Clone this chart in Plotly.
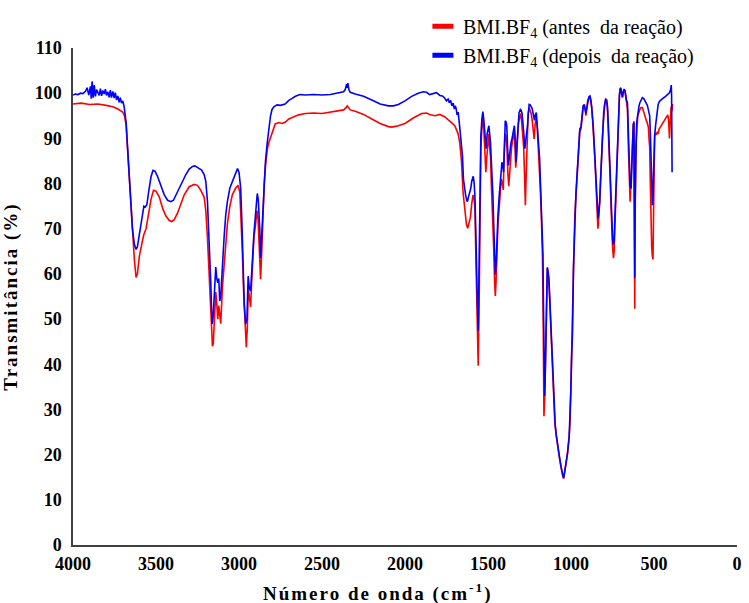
import plotly.graph_objects as go

# FTIR spectrum of BMI.BF4 before the reaction (wavenumber in cm-1, transmittance in %)
wn_antes = [
    4000, 3950, 3900, 3850, 3800, 3760, 3730, 3700, 3690, 3680, 3672, 3662, 3650, 3640, 3630,
    3620, 3612, 3600, 3590, 3575, 3560, 3545, 3530, 3515, 3500, 3480, 3460, 3440, 3420, 3405,
    3390, 3370, 3350, 3330, 3300, 3270, 3250, 3230, 3210, 3200, 3190, 3180, 3170, 3160, 3155,
    3148, 3140, 3135, 3128, 3122, 3115, 3110, 3100, 3090, 3080, 3070, 3055, 3040, 3020, 3005,
    2995, 2988, 2980, 2972, 2963, 2956, 2950, 2944, 2938, 2930, 2924, 2918, 2910, 2900, 2892,
    2885, 2878, 2870, 2864, 2856, 2848, 2840, 2830, 2820, 2800, 2782, 2760, 2740, 2720, 2700,
    2680, 2640, 2600, 2550, 2500, 2450, 2400, 2370, 2355, 2348, 2340, 2330, 2300, 2250, 2200,
    2150, 2100, 2080, 2050, 2000, 1950, 1900, 1870, 1852, 1820, 1790, 1762, 1740, 1720, 1700,
    1690, 1680, 1670, 1660, 1650, 1640, 1630, 1622, 1615, 1606, 1598, 1590, 1584, 1579, 1572,
    1565, 1559, 1553, 1549, 1543, 1537, 1531, 1525, 1519, 1513, 1507, 1500, 1495, 1490, 1485,
    1480, 1473, 1466, 1460, 1456, 1452, 1446, 1440, 1432, 1426, 1420, 1414, 1408, 1403, 1398,
    1392, 1386, 1380, 1375, 1370, 1364, 1358, 1350, 1344, 1338, 1333, 1328, 1322, 1316, 1310,
    1303, 1298, 1290, 1285, 1280, 1275, 1270, 1265, 1258, 1252, 1246, 1240, 1234, 1228, 1222,
    1216, 1210, 1204, 1196, 1190, 1184, 1178, 1172, 1167, 1163, 1158, 1152, 1146, 1142, 1138,
    1133, 1128, 1123, 1118, 1113, 1108, 1103, 1098, 1090, 1080, 1070, 1060, 1054, 1048, 1044,
    1038, 1031, 1021, 1011, 1006, 1001, 996, 991, 985, 977, 970, 965, 957, 950, 947,
    940, 935, 927, 920, 915, 910, 906, 900, 893, 886, 880, 876, 870, 866, 860,
    853, 847, 843, 838, 835, 830, 827, 822, 819, 814, 811, 806, 803, 797, 791,
    785, 780, 777, 774, 770, 764, 759, 754, 749, 744, 740, 736, 732, 728, 724,
    720, 717, 714, 708, 704, 700, 695, 690, 685, 680, 675, 670, 666, 660, 655,
    650, 644, 640, 636, 632, 629, 625, 621, 618, 616, 614, 610, 605, 601, 598,
    595, 590, 585, 578, 570, 565, 560, 555, 550, 545, 541, 537, 534, 530, 526,
    522, 518, 514, 510, 506, 503, 500, 496, 490, 485, 480, 475, 470, 465, 457,
    450, 445, 437, 430, 425, 417, 412, 407, 403, 400, 397, 392, 388,
]
t_antes = [
    97.6, 97.8, 97.5, 97.6, 97.3, 97.0, 96.5, 95.8, 95.0, 93.0, 88.0, 82.0, 74.0, 68.0, 63.0,
    59.2, 60.0, 64.0, 66.0, 68.5, 70.0, 73.0, 76.5, 78.5, 78.3, 77.0, 74.5, 72.8, 71.8, 71.6,
    72.0, 73.5, 75.5, 77.5, 79.3, 79.8, 79.6, 78.5, 77.0, 74.0, 68.0, 60.0, 50.0, 44.0, 44.5,
    52.0, 56.0, 54.0, 50.0, 53.0, 50.0, 49.0, 57.0, 62.0, 67.0, 71.0, 75.0, 77.5, 79.0, 79.6,
    78.0, 73.0, 65.0, 56.0, 47.0, 43.8, 48.0, 57.0, 55.0, 52.7, 58.0, 63.0, 68.0, 71.0, 74.0,
    72.0, 66.0, 58.8, 64.0, 74.0, 80.0, 84.0, 87.5, 89.1, 91.5, 93.2, 93.5, 93.3, 93.6, 94.3,
    94.6, 95.2, 95.5, 95.6, 95.5, 95.8, 96.0, 96.3, 96.8, 97.2, 96.8, 96.3, 96.0, 95.3, 94.3,
    93.3, 92.6, 92.5, 92.7, 93.3, 94.5, 95.5, 95.6, 95.3, 95.0, 95.3, 94.8, 94.0, 93.5, 92.8,
    92.0, 91.0, 89.0, 85.0, 78.0, 74.0, 71.0, 70.1, 71.0, 72.5, 75.5, 77.5, 76.5, 75.0, 62.0,
    50.0, 39.7, 55.0, 75.0, 88.0, 92.0, 94.5, 92.0, 88.0, 82.5, 86.0, 90.0, 91.0, 88.0, 86.0,
    80.0, 74.0, 66.0, 58.0, 55.1, 58.0, 66.0, 71.0, 75.0, 78.0, 81.0, 80.0, 78.6, 86.0, 91.0,
    90.5, 88.0, 82.0, 79.4, 82.0, 86.0, 88.0, 90.0, 91.5, 89.0, 83.5, 86.0, 90.0, 93.5, 94.5,
    95.5, 94.0, 91.0, 88.0, 82.0, 75.2, 82.0, 90.0, 95.5, 96.8, 96.0, 95.5, 94.0, 91.0, 89.9,
    93.0, 94.5, 93.0, 88.0, 84.0, 78.0, 72.0, 64.0, 48.0, 28.5, 33.0, 45.0, 55.0, 61.5, 60.0,
    58.0, 54.0, 49.0, 45.0, 40.0, 33.0, 29.0, 27.5, 24.5, 21.5, 19.4, 17.2, 15.8, 15.0, 14.7,
    16.0, 18.2, 20.3, 24.0, 27.0, 34.0, 44.0, 48.0, 61.0, 73.0, 78.0, 81.0, 86.5, 90.0, 91.5,
    92.0, 94.0, 96.8, 97.2, 96.5, 95.0, 96.4, 98.3, 99.0, 99.2, 98.0, 97.0, 94.0, 92.0, 88.0,
    83.0, 78.0, 73.0, 70.0, 71.0, 73.0, 76.0, 80.0, 83.5, 87.0, 90.0, 93.0, 95.5, 97.5, 98.8,
    98.2, 96.0, 93.5, 91.5, 88.0, 81.0, 75.0, 69.0, 65.5, 63.5, 65.0, 70.0, 75.0, 79.0, 84.0,
    88.5, 93.0, 97.0, 99.5, 100.8, 101.0, 99.8, 99.0, 100.2, 100.8, 100.5, 99.0, 97.5, 96.5, 89.0,
    84.0, 76.0, 79.0, 84.0, 88.0, 91.0, 93.0, 93.8, 70.0, 52.3, 70.0, 88.0, 92.0, 93.5, 94.8,
    95.3, 96.0, 96.4, 96.8, 96.8, 96.2, 95.5, 95.0, 94.3, 93.8, 93.5, 93.0, 92.5, 90.0, 88.0,
    80.0, 70.0, 66.0, 64.0, 63.2, 72.0, 83.0, 90.5, 91.0, 90.8, 91.5, 91.0, 92.0, 92.3, 92.5,
    93.2, 93.5, 93.7, 94.2, 94.5, 95.2, 94.0, 90.0, 93.0, 95.0, 97.0, 96.0, 97.6,
]

# FTIR spectrum of BMI.BF4 after the reaction
wn_depois = [
    4000, 3985, 3970, 3955, 3940, 3925, 3915, 3905, 3895, 3890, 3885, 3878, 3872, 3865, 3858,
    3850, 3842, 3835, 3828, 3820, 3812, 3805, 3798, 3790, 3782, 3775, 3768, 3760, 3752, 3745,
    3738, 3730, 3722, 3715, 3708, 3700, 3692, 3685, 3680, 3672, 3662, 3652, 3642, 3630, 3620,
    3612, 3600, 3592, 3585, 3573, 3565, 3555, 3545, 3530, 3518, 3505, 3490, 3470, 3450, 3430,
    3410, 3395, 3375, 3350, 3320, 3300, 3280, 3266, 3245, 3225, 3210, 3200, 3190, 3180, 3170,
    3165, 3161, 3155, 3148, 3140, 3134, 3128, 3122, 3116, 3110, 3100, 3090, 3080, 3070, 3055,
    3040, 3020, 3009, 3000, 2990, 2983, 2976, 2968, 2960, 2952, 2945, 2938, 2930, 2925, 2918,
    2910, 2904, 2896, 2890, 2884, 2880, 2875, 2870, 2864, 2856, 2848, 2841, 2830, 2821, 2810,
    2801, 2790, 2771, 2750, 2722, 2700, 2682, 2660, 2633, 2600, 2550, 2500, 2450, 2400, 2370,
    2360, 2352, 2348, 2344, 2338, 2330, 2300, 2250, 2200, 2150, 2100, 2070, 2040, 2000, 1960,
    1920, 1890, 1870, 1852, 1830, 1810, 1790, 1775, 1762, 1750, 1740, 1733, 1725, 1718, 1710,
    1703, 1698, 1693, 1686, 1680, 1673, 1665, 1660, 1654, 1648, 1644, 1635, 1628, 1624, 1618,
    1610, 1604, 1598, 1589, 1584, 1579, 1574, 1571, 1565, 1559, 1553, 1549, 1543, 1537, 1531,
    1525, 1519, 1513, 1511, 1505, 1500, 1495, 1490, 1485, 1480, 1476, 1470, 1466, 1461, 1456,
    1450, 1445, 1440, 1433, 1426, 1420, 1416, 1411, 1406, 1401, 1396, 1390, 1387, 1382, 1377,
    1371, 1366, 1361, 1355, 1350, 1345, 1341, 1336, 1331, 1325, 1320, 1313, 1305, 1300, 1295,
    1290, 1284, 1278, 1270, 1262, 1257, 1252, 1246, 1240, 1234, 1228, 1226, 1220, 1215, 1209,
    1200, 1194, 1189, 1184, 1179, 1174, 1169, 1165, 1162, 1159, 1156, 1152, 1148, 1143, 1138,
    1133, 1129, 1124, 1119, 1114, 1109, 1104, 1100, 1095, 1090, 1080, 1070, 1060, 1054, 1049,
    1044, 1038, 1031, 1021, 1011, 1006, 1001, 996, 991, 985, 977, 970, 965, 957, 950,
    947, 940, 935, 927, 920, 915, 910, 906, 898, 892, 886, 880, 876, 870, 866,
    860, 853, 847, 843, 837, 833, 827, 823, 819, 815, 811, 806, 803, 797, 791,
    785, 780, 774, 770, 764, 759, 754, 749, 744, 740, 736, 732, 728, 724, 720,
    717, 714, 708, 704, 700, 695, 690, 685, 680, 675, 670, 666, 660, 655, 650,
    644, 638, 633, 629, 625, 621, 618, 616, 614, 610, 605, 601, 598, 595, 590,
    585, 578, 570, 562, 555, 546, 540, 534, 526, 521, 516, 512, 510, 507, 503,
    500, 496, 490, 482, 475, 467, 457, 445, 437, 427, 417, 407, 400, 396, 394,
    392, 391,
]
t_depois = [
    99.6, 99.8, 99.7, 100.0, 99.9, 100.4, 101.2, 99.6, 101.5, 98.8, 102.6, 99.0, 101.8, 99.3, 100.8,
    100.2, 99.5, 101.0, 99.4, 100.6, 99.8, 100.9, 99.5, 100.3, 99.1, 100.7, 99.0, 100.4, 98.9, 100.1,
    98.5, 99.4, 98.0, 99.0, 97.8, 98.3, 97.0, 95.0, 93.5, 88.5, 82.5, 76.0, 70.0, 66.5, 65.4,
    66.0, 68.5, 70.8, 72.5, 75.0, 74.8, 75.3, 78.0, 81.5, 82.9, 82.7, 81.5, 79.5, 77.5, 76.3,
    76.0, 76.3, 77.8, 80.0, 82.0, 83.2, 83.8, 83.9, 83.5, 83.0, 82.0, 80.5, 76.0, 68.0, 58.0,
    52.0, 48.9, 51.0, 56.0, 61.5, 59.0, 58.0, 59.0, 54.0, 55.0, 63.0, 68.0, 73.0, 76.0, 79.0,
    80.5, 82.5, 83.3, 82.5, 79.0, 72.0, 61.0, 53.0, 48.9, 50.0, 59.5, 57.0, 56.2, 60.0, 65.0,
    69.0, 71.6, 75.0, 77.8, 76.5, 74.5, 70.0, 63.5, 68.0, 76.0, 81.0, 84.7, 89.0, 92.4, 95.0,
    96.4, 97.0, 97.4, 97.3, 97.6, 98.4, 98.8, 99.3, 99.7, 99.6, 99.7, 99.6, 99.7, 100.0, 100.3,
    100.8, 102.0, 101.2, 102.2, 100.8, 100.2, 99.8, 99.3, 98.5, 97.6, 97.2, 97.2, 97.5, 98.3, 99.3,
    100.0, 100.3, 100.2, 99.7, 99.9, 100.1, 99.5, 99.4, 99.0, 98.3, 98.7, 97.9, 98.4, 97.2, 97.8,
    96.5, 97.2, 96.8, 95.2, 95.8, 93.5, 90.5, 88.0, 86.2, 81.0, 79.6, 77.5, 76.3, 76.0, 77.0,
    78.0, 78.9, 80.5, 81.6, 80.3, 77.4, 70.0, 63.5, 55.0, 47.4, 62.0, 81.0, 90.5, 94.2, 95.9,
    94.0, 91.3, 88.5, 87.7, 91.0, 92.5, 92.8, 91.0, 89.1, 85.0, 82.5, 77.0, 71.6, 65.0, 59.9,
    63.0, 69.0, 73.0, 77.0, 80.4, 83.0, 84.7, 84.0, 82.5, 88.0, 93.9, 93.5, 92.8, 88.0, 84.0,
    86.0, 88.0, 89.1, 90.0, 91.0, 92.0, 92.8, 90.0, 84.7, 89.0, 92.8, 95.7, 96.4, 96.2, 95.5,
    94.0, 91.0, 87.7, 90.0, 92.8, 95.5, 97.5, 97.4, 96.8, 96.6, 95.5, 95.0, 94.0, 95.2, 95.7,
    91.0, 88.0, 85.5, 80.0, 74.5, 69.0, 64.3, 50.0, 38.0, 33.0, 36.0, 48.0, 56.0, 61.3, 60.5,
    59.0, 55.5, 51.0, 46.7, 42.0, 37.2, 32.0, 28.5, 26.5, 24.7, 21.8, 19.6, 17.4, 16.0, 15.3,
    14.9, 16.2, 18.2, 20.3, 24.0, 28.0, 34.2, 42.0, 46.7, 61.3, 73.0, 78.0, 81.1, 86.9, 90.5,
    92.1, 92.5, 94.0, 97.2, 97.5, 96.8, 95.5, 96.4, 98.6, 99.2, 99.4, 98.5, 97.2, 95.0, 92.8,
    88.5, 83.3, 79.0, 75.2, 72.3, 73.5, 76.0, 80.0, 83.3, 86.5, 89.9, 93.0, 95.7, 97.5, 98.6,
    98.5, 97.0, 92.1, 88.0, 81.1, 75.5, 70.1, 67.5, 66.5, 67.5, 72.0, 76.0, 78.9, 83.5, 88.4,
    93.0, 97.2, 99.8, 101.0, 101.2, 100.0, 99.2, 100.4, 100.8, 100.6, 99.3, 98.5, 97.9, 91.0, 86.2,
    79.5, 78.9, 84.0, 91.3, 93.0, 93.5, 75.0, 59.1, 75.0, 90.0, 93.0, 94.5, 95.7, 96.5, 97.2,
    97.9, 98.6, 99.0, 98.8, 98.4, 97.9, 97.3, 96.3, 95.0, 90.0, 78.9, 76.0, 75.2, 77.0, 84.0,
    88.5, 90.6, 93.0, 96.4, 97.5, 98.2, 98.6, 98.9, 99.1, 99.4, 99.8, 100.1, 100.8, 101.8, 99.5,
    90.0, 82.5,
]

series_names = ["BMI.BF<sub>4</sub> (antes\u00a0 da reação)", "BMI.BF<sub>4</sub> (depois\u00a0 da reação)"]
series_colors = ["#ff0000", "#0000ff"]

x_ticks = [4000, 3500, 3000, 2500, 2000, 1500, 1000, 500, 0]
y_ticks = list(range(0, 111, 10))

serif = "Liberation Serif, Times New Roman, serif"

fig = go.Figure()

# spectra (the second spectrum is drawn on top)
for wn, t, color in zip([wn_antes, wn_depois], [t_antes, t_depois], series_colors):
    fig.add_trace(go.Scatter(x=wn, y=t, mode="lines",
                             line=dict(color=color, width=1.6),
                             showlegend=False, hoverinfo="skip"))

# legend entries drawn as short thick bars
for name, color in zip(series_names, series_colors):
    fig.add_trace(go.Scatter(x=[None], y=[None], mode="markers", name=name,
                             marker=dict(symbol="line-ew", size=15,
                                         line=dict(color=color, width=5))))

fig.update_layout(
    width=749, height=603,
    margin=dict(l=68, r=7, t=45, b=58),
    paper_bgcolor="white", plot_bgcolor="white",
    font=dict(family=serif, color="black"),
    legend=dict(x=0.527, y=1.083, xanchor="left", yanchor="top",
                font=dict(family=serif, size=20, color="black"),
                bgcolor="rgba(0,0,0,0)", itemclick=False, tracegroupgap=0),
    xaxis=dict(range=[4000, 0], tickvals=x_ticks, ticktext=[str(v) for v in x_ticks],
               showgrid=False, zeroline=False, showline=True, linecolor="#404040", linewidth=1.5,
               ticks="", ticklabelstandoff=2,
               tickfont=dict(family=serif, size=18, weight="bold", color="black")),
    yaxis=dict(range=[0, 110], tickvals=y_ticks, ticktext=[str(v) for v in y_ticks],
               showgrid=False, zeroline=False, showline=True, linecolor="#404040", linewidth=1.5,
               ticks="", ticklabelstandoff=6,
               tickfont=dict(family=serif, size=18, weight="bold", color="black"),
               title=dict(text='<span style="letter-spacing:2px">Transmitância (%)</span>',
                          font=dict(family=serif, size=19, weight="bold"), standoff=14)),
    annotations=[dict(text='<span style="letter-spacing:2px">Número de onda (cm<sup>-1</sup>)</span>',
                      xref="paper", yref="paper", x=(378 - 68) / 674, y=-0.095,
                      xanchor="center", yanchor="middle", showarrow=False,
                      font=dict(family=serif, size=19, weight="bold", color="black"))],
)

fig.write_html("out.html")
